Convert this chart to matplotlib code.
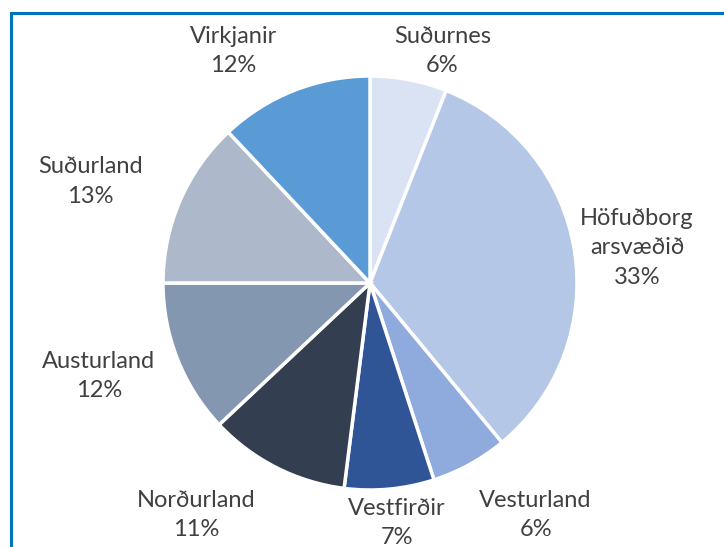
import matplotlib.pyplot as plt
from matplotlib.patches import Rectangle

regions = ['Suðurnes', 'Höfuðborg\narsvæðið', 'Vesturland', 'Vestfirðir',
           'Norðurland', 'Austurland', 'Suðurland', 'Virkjanir']
shares = [6, 33, 6, 7, 11, 12, 13, 12]
colors = ['#dae3f3', '#b4c7e7', '#8faadc', '#2f5597',
          '#333f50', '#8497b0', '#adb9ca', '#5b9bd5']

# label centres in units of pie radius
label_pos = [(0.35, 1.12), (1.29, 0.17), (0.80, -1.12), (0.13, -1.16),
             (-0.84, -1.12), (-1.31, -0.45), (-1.35, 0.49), (-0.66, 1.12)]

plt.rcParams['font.family'] = ['Lato', 'DejaVu Sans']

fig = plt.figure(figsize=(7.24, 5.47), dpi=100)
ax = fig.add_axes([0, 0, 1, 1])
ax.pie(shares, colors=colors, startangle=90, counterclock=False,
       wedgeprops=dict(edgecolor='white', linewidth=2.5))
ax.set_xlim(-370 / 207, (724 - 370) / 207)
ax.set_ylim(-(547 - 283) / 207, 283 / 207)
ax.set_aspect('auto')
ax.axis('off')

for name, val, (x, y) in zip(regions, shares, label_pos):
    ax.text(x, y, f'{name}\n{val}%', ha='center', va='center',
            fontsize=17, color='#404040', linespacing=1.5)

# outer chart border (runs off the right and bottom edge)
fig.patches.append(Rectangle((10.5 / 724, -0.1), 1.2, 1.1 - 12.5 / 547,
                             transform=fig.transFigure, fill=False,
                             edgecolor='#0070c0', linewidth=2.2))

fig.savefig('out.png', dpi=100)
